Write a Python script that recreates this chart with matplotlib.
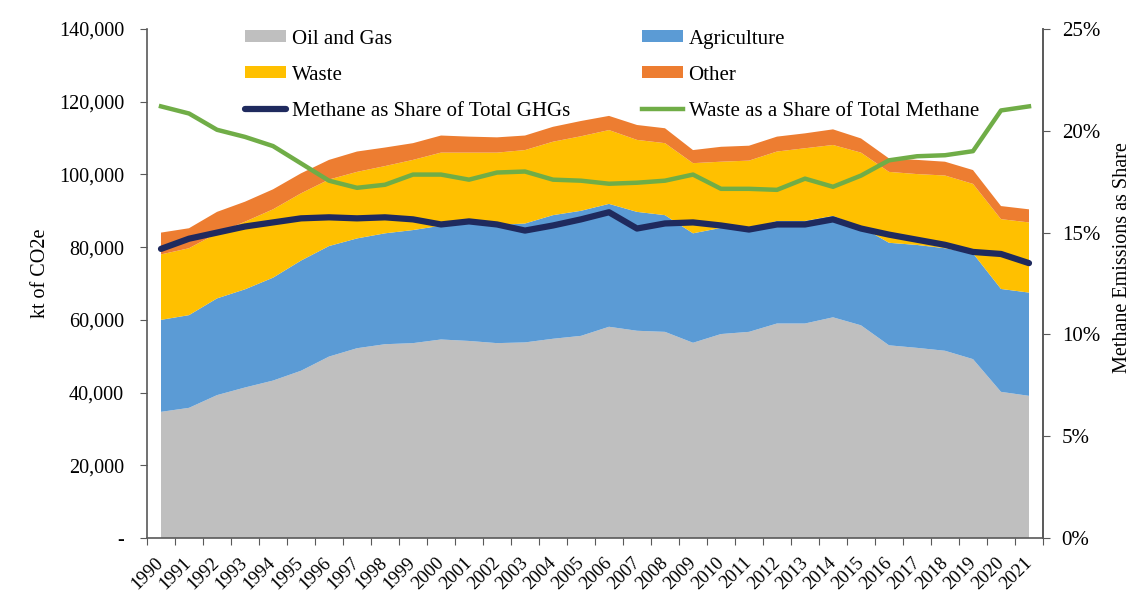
import matplotlib
matplotlib.use("Agg")
import matplotlib.pyplot as plt
import matplotlib.transforms as mtransforms
import numpy as np
from matplotlib.ticker import FuncFormatter, FixedLocator

plt.rcParams['font.family'] = ['Liberation Serif', 'DejaVu Serif']

years = list(range(1990, 2022))
oil_gas = [34700, 35800, 39300, 41400, 43300, 46000, 49900, 52200, 53300, 53600,
           54600, 54200, 53600, 53800, 54800, 55600, 58100, 57000, 56700, 53700,
           56100, 56700, 59000, 59000, 60700, 58500, 53000, 52300, 51500, 49200,
           40200, 39100]
agri_top = [60000, 61300, 65900, 68400, 71600, 76300, 80300, 82400, 83800, 84700,
            85900, 86400, 86100, 86500, 88800, 90000, 91900, 89700, 88800, 83800,
            85300, 85000, 87200, 87200, 88600, 85600, 81200, 80600, 79700, 78300,
            68500, 67500]
waste_top = [78000, 79700, 83800, 87000, 90400, 94800, 98600, 100700, 102300, 104000,
             106000, 106000, 106000, 106700, 109000, 110500, 112200, 109500, 108600, 103100,
             103500, 103800, 106300, 107200, 108100, 106000, 100700, 100100, 99700, 97400,
             87700, 86800]
total = [84000, 85200, 89700, 92500, 95900, 100300, 104000, 106300, 107400, 108600,
         110700, 110400, 110200, 110700, 113100, 114700, 116100, 113600, 112700, 106700,
         107600, 107900, 110400, 111300, 112400, 109900, 104400, 104000, 103500, 101200,
         91300, 90400]
agriculture = [a - o for a, o in zip(agri_top, oil_gas)]
waste = [w - a for w, a in zip(waste_top, agri_top)]
other = [t - w for t, w in zip(total, waste_top)]

methane_share = [14.2, 14.7, 15.0, 15.3, 15.5, 15.7, 15.75, 15.7, 15.75, 15.65,
                 15.4, 15.55, 15.4, 15.1, 15.35, 15.65, 16.0, 15.2, 15.45, 15.5,
                 15.35, 15.15, 15.4, 15.4, 15.65, 15.2, 14.9, 14.65, 14.4, 14.05,
                 13.95, 13.5]
waste_share = [21.2, 20.85, 20.05, 19.7, 19.25, 18.4, 17.55, 17.2, 17.35, 17.85,
               17.85, 17.6, 17.95, 18.0, 17.6, 17.55, 17.4, 17.45, 17.55, 17.85,
               17.15, 17.15, 17.1, 17.65, 17.25, 17.8, 18.55, 18.75, 18.8, 19.0,
               21.0, 21.2]

c_gray = '#BFBFBF'
c_blue = '#5B9BD5'
c_yellow = '#FFC000'
c_orange = '#ED7D31'
c_navy = '#1F2A5E'
c_green = '#70AD47'
spine_c = '#595959'

fig = plt.figure(figsize=(11.32, 6.03), dpi=100)
ax = fig.add_axes([147/1132, 1 - 538/603, 896/1132, 509/603])
x = np.arange(len(years))
polys = ax.stackplot(x, oil_gas, agriculture, waste, other,
                     colors=[c_gray, c_blue, c_yellow, c_orange],
                     labels=['Oil and Gas', 'Agriculture', 'Waste', 'Other'],
                     linewidth=0)
ax.set_xlim(-0.5, len(years) - 0.5)
ax.set_ylim(0, 140000)
ax.yaxis.set_major_locator(FixedLocator(np.arange(0, 140001, 20000)))
ax.yaxis.set_major_formatter(FuncFormatter(lambda v, p: '-' if v == 0 else f'{int(v):,}'))
ax.set_xticks(np.arange(-0.5, len(years), 1.0))
ax.set_xticklabels([])
ax.set_xticks(x, minor=True)
ax.set_xticklabels([str(y) for y in years], minor=True, rotation=45,
                   ha='right', va='center', rotation_mode='anchor', fontsize=13.5)
offset = mtransforms.ScaledTranslation(-3/100, 0, fig.dpi_scale_trans)
for lab in ax.xaxis.get_minorticklabels():
    lab.set_transform(lab.get_transform() + offset)
ax.tick_params(axis='x', which='minor', length=0, pad=16)
ax.tick_params(axis='x', which='major', length=5, color=spine_c, direction='out')
ax.tick_params(axis='y', labelsize=14.5, length=5, pad=11.5, color=spine_c)
ax.set_ylabel('kt of CO2e', fontsize=14.5)
ax.yaxis.set_label_coords(-0.108, 0.52)
ax.spines['top'].set_visible(False)
for s in ['left', 'bottom', 'right']:
    ax.spines[s].set_color(spine_c)
    ax.spines[s].set_linewidth(1.2)

ax2 = ax.twinx()
l1, = ax2.plot(x, methane_share, color=c_navy, lw=4.5, solid_capstyle='round',
               label='Methane as Share of Total GHGs')
l2, = ax2.plot(x, waste_share, color=c_green, lw=3.2,
               label='Waste as a Share of Total Methane')
ax2.set_ylim(0, 25)
ax2.yaxis.set_major_locator(FixedLocator(np.arange(0, 26, 5)))
ax2.yaxis.set_major_formatter(FuncFormatter(lambda v, p: f'{int(v)}%'))
ax2.tick_params(axis='y', labelsize=15, length=5, pad=8.5, color=spine_c)
ax2.set_ylabel('Methane Emissions as Share', fontsize=14.5)
ax2.yaxis.set_label_coords(1.078, 0.55)
for s in ['top', 'left', 'bottom']:
    ax2.spines[s].set_visible(False)
ax2.spines['right'].set_color(spine_c)
ax2.spines['right'].set_linewidth(1.2)

handles = [polys[0], polys[1], polys[2], polys[3], l1, l2]
labels = ['Oil and Gas', 'Agriculture', 'Waste', 'Other',
          'Methane as Share of Total GHGs', 'Waste as a Share of Total Methane']
order = [0, 2, 4, 1, 3, 5]
leg = ax2.legend([handles[i] for i in order], [labels[i] for i in order],
                 ncol=2, loc='upper left', bbox_to_anchor=(0.109, 0.999),
                 borderpad=0, borderaxespad=0,
                 frameon=False, fontsize=15, handlelength=2.0, handleheight=0.5,
                 columnspacing=3.45, labelspacing=0.82, handletextpad=0.25)

fig.savefig('out.png', dpi=100)
